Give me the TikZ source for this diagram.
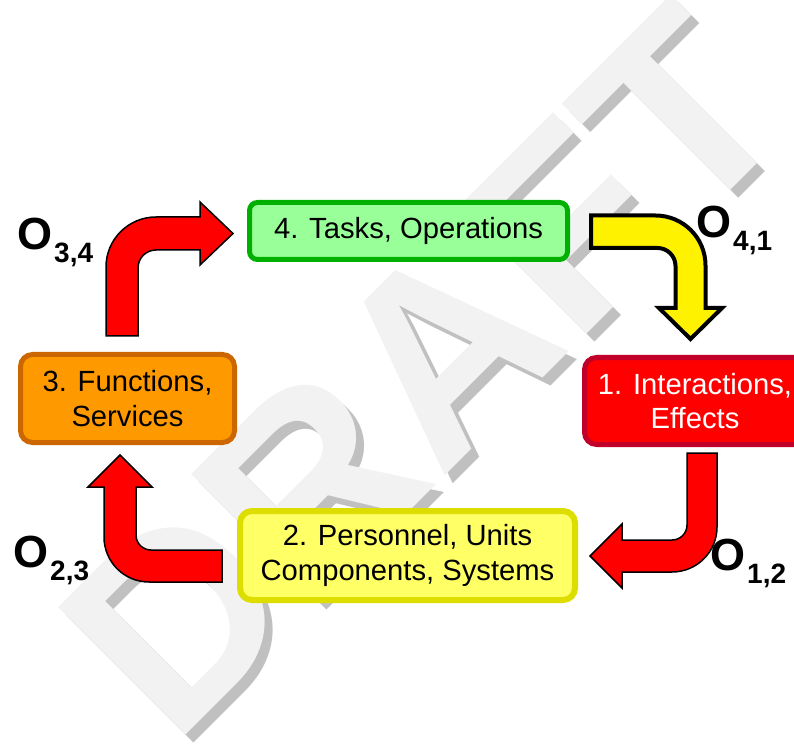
\documentclass[tikz,border=0pt]{standalone}
\usepackage{fontspec}
\setmainfont{Liberation Sans}
\usetikzlibrary{shapes, arrows}
\definecolor{taskfill}{HTML}{99FF99}
\definecolor{taskline}{HTML}{00B000}
\definecolor{funcfill}{HTML}{FF9900}
\definecolor{funcline}{HTML}{CC6600}
\definecolor{interline}{HTML}{C00028}
\definecolor{persfill}{HTML}{FFFF66}
\definecolor{persline}{HTML}{DDDD00}
\definecolor{draftlight}{HTML}{F2F2F2}
\definecolor{draftshadow}{HTML}{C0C0C0}
\tikzstyle{stage} = [rectangle, rounded corners=12pt, line width=5pt, align=center, inner sep=0pt, font=\fontsize{29.2}{34.5}\selectfont]
\tikzstyle{greenbox} = [stage, rounded corners=8pt, minimum width=318pt, minimum height=57pt, draw=taskline, fill=taskfill]
\tikzstyle{orangebox} = [stage, minimum width=214pt, minimum height=88pt, draw=funcline, fill=funcfill]
\tikzstyle{redbox} = [stage, minimum width=221pt, minimum height=87pt, draw=interline, fill=red, text=white]
\tikzstyle{yellowbox} = [stage, line width=6pt, minimum width=335pt, minimum height=89pt, draw=persline, fill=persfill]
\tikzstyle{bendred} = [draw=black, line width=1.5pt, fill=red]
\tikzstyle{bendyellow} = [draw=black, line width=4pt, fill=yellow]
\tikzstyle{opname} = [anchor=base west, inner sep=0pt, font=\bfseries\fontsize{45}{45}\selectfont]
\tikzstyle{draftmark} = [rotate=45, anchor=base west, inner sep=0pt, font=\bfseries\fontsize{262}{262}\selectfont]
\newcommand{\opsub}[1]{\kern2pt\raisebox{-13pt}{\fontsize{28}{28}\selectfont #1}}

\begin{document}
\begin{tikzpicture}[x=1pt, y=1pt]
    \useasboundingbox (0,0) rectangle (794,745);
    \clip (0,0) rectangle (794,745);
    % watermark
    \node (shadow) [draftmark, text=draftshadow] at (181,-11) {DRAFT};
    \node (draft) [draftmark, text=draftlight] at (173,-3) {DRAFT};

    \node (tasks) [greenbox] at (408.5,514) {4. Tasks, Operations};
    \node (functions) [orangebox] at (127.5,346.5) {3. Functions,\\Services};
    \node (interactions) [redbox] at (695,344) {1. Interactions,\\Effects};
    \node (personnel) [yellowbox] at (407.5,189.5) {2. Personnel, Units\\Components, Systems};

    % bent arrows
    \draw [bendred] (106,409) -- (106,478) arc (180:90:50) -- (200,528) -- (200,543) -- (233,511.5) -- (200,480) -- (200,495) -- (156,495) arc (90:180:18) -- (138,409) -- cycle;
    \draw [bendyellow] (591,529.5) -- (655.5,529.5) arc (90:0:50) -- (705.5,437) -- (722,437) -- (690.5,406) -- (659,437) -- (675.5,437) -- (675.5,479) arc (0:90:18) -- (591,497) -- cycle;
    \draw [bendred] (687,292) -- (717,292) -- (717,218) arc (0:-90:45) -- (622,173) -- (622,157) -- (590,189) -- (622,221) -- (622,205) -- (672,205) arc (-90:0:15) -- cycle;
    \draw [bendred] (222,195) -- (151,195) arc (270:180:15) -- (136,258) -- (152,258) -- (120,290) -- (88,258) -- (104,258) -- (104,208) arc (180:270:45) -- (222,163) -- cycle;

    \node (o34) [opname] at (17,495) {O\opsub{3,4}};
    \node (o41) [opname] at (696,507) {O\opsub{4,1}};
    \node (o12) [opname] at (710,175) {O\opsub{1,2}};
    \node (o23) [opname] at (13,178) {O\opsub{2,3}};
\end{tikzpicture}
\end{document}
